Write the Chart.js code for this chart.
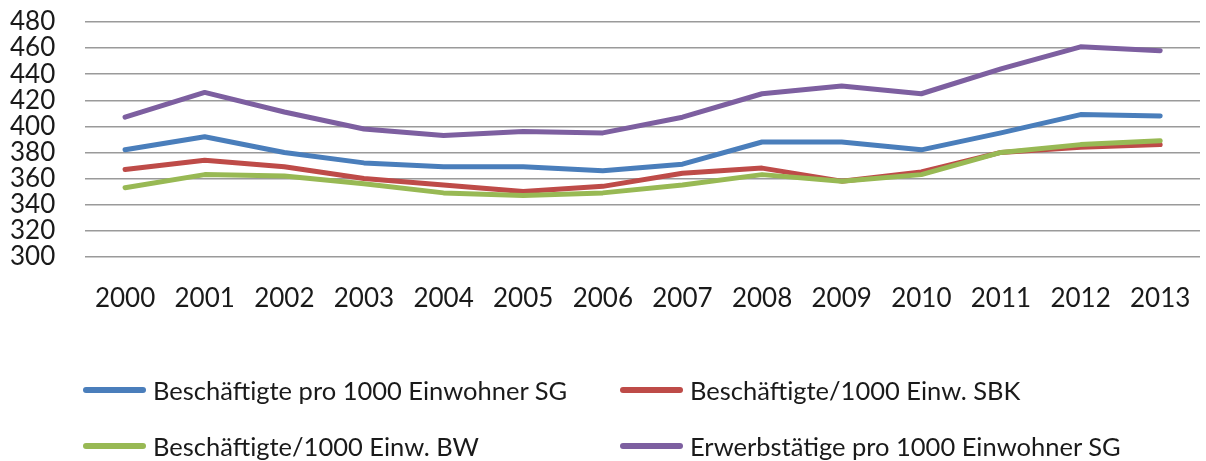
<!DOCTYPE html>
<html>
<head>
<meta charset="utf-8">
<script src="https://cdn.jsdelivr.net/npm/chart.js@4/dist/chart.umd.min.js"></script>
<style>
  html, body { margin: 0; padding: 0; background: #fff; }
  #wrap { position: relative; width: 1206px; height: 461px; }
  #legend { position: absolute; left: 83px; top: 375px; width: 1120px;
            font-family: Lato, sans-serif; font-size: 25.5px; line-height: 30px; color: #1a1a1a; }
  .item { position: absolute; display: flex; align-items: center; white-space: nowrap; }
  .swatch { width: 63px; height: 6px; border-radius: 3px; margin-right: 7px; }
</style>
</head>
<body>
<div id="wrap">
  <canvas id="chart" width="1206" height="461"></canvas>
  <div id="legend"></div>
</div>
<script>
// years on the x axis
const years = ['2000', '2001', '2002', '2003', '2004', '2005', '2006',
               '2007', '2008', '2009', '2010', '2011', '2012', '2013'];

// series
const beschSG  = [382, 392, 380, 372, 369, 369, 366, 371, 388, 388, 382, 395, 409, 408];
const beschSBK = [367, 374, 369, 360, 355, 350, 354, 364, 368, 358, 365, 380, 384, 386];
const beschBW  = [353, 363, 362, 356, 349, 347, 349, 355, 363, 358, 363, 380, 386, 389];
const erwerbSG = [407, 426, 411, 398, 393, 396, 395, 407, 425, 431, 425, 444, 461, 458];

const labelFont = { family: 'Lato, sans-serif', size: 26 };

function series(label, data, color, order) {
    return {
        label: label,
        data: data,
        borderColor: color,
        backgroundColor: color,
        borderWidth: 5,
        tension: 0,
        pointRadius: 0,
        borderCapStyle: 'round',
        borderJoinStyle: 'round',
        order: order
    };
}

const chart = new Chart(document.getElementById('chart').getContext('2d'), {
    type: 'line',
    data: {
        labels: years,
        datasets: [
            series('Beschäftigte pro 1000 Einwohner SG', beschSG, '#4a7ebb', 4),
            series('Beschäftigte/1000 Einw. SBK', beschSBK, '#be4b48', 3),
            series('Beschäftigte/1000 Einw. BW', beschBW, '#98b954', 2),
            series('Erwerbstätige pro 1000 Einwohner SG', erwerbSG, '#7d5fa0', 1)
        ]
    },
    options: {
        responsive: false,
        animation: false,
        layout: { padding: { left: 10, right: 6, top: 22, bottom: 147 } },
        plugins: {
            legend: { display: false },
            tooltip: { enabled: false }
        },
        scales: {
            x: {
                offset: true,
                // tick marks hidden; their length gives the gap above the year labels
                grid: { display: false, drawTicks: true, tickLength: 26 },
                border: { display: false },
                ticks: { font: labelFont, color: '#1a1a1a', padding: 0, maxRotation: 0, autoSkip: false }
            },
            y: {
                min: 300,
                max: 480,
                grid: { color: '#9a9a9a', lineWidth: 1.5, drawTicks: true, tickLength: 30, tickColor: 'rgba(0,0,0,0)' },
                border: { display: false },
                ticks: { stepSize: 20, font: labelFont, color: '#1a1a1a', padding: 0, autoSkip: false }
            }
        }
    }
});

// legend in two columns, like the original
const legend = document.getElementById('legend');
const spots = [[0, 0], [537, 0], [0, 56], [537, 56]];
chart.data.datasets.forEach((ds, i) => {
    const item = document.createElement('div');
    item.className = 'item';
    item.style.left = spots[i][0] + 'px';
    item.style.top = spots[i][1] + 'px';
    item.innerHTML = '<span class="swatch" style="background:' + ds.borderColor + '"></span>' + ds.label;
    legend.appendChild(item);
});
</script>
</body>
</html>
